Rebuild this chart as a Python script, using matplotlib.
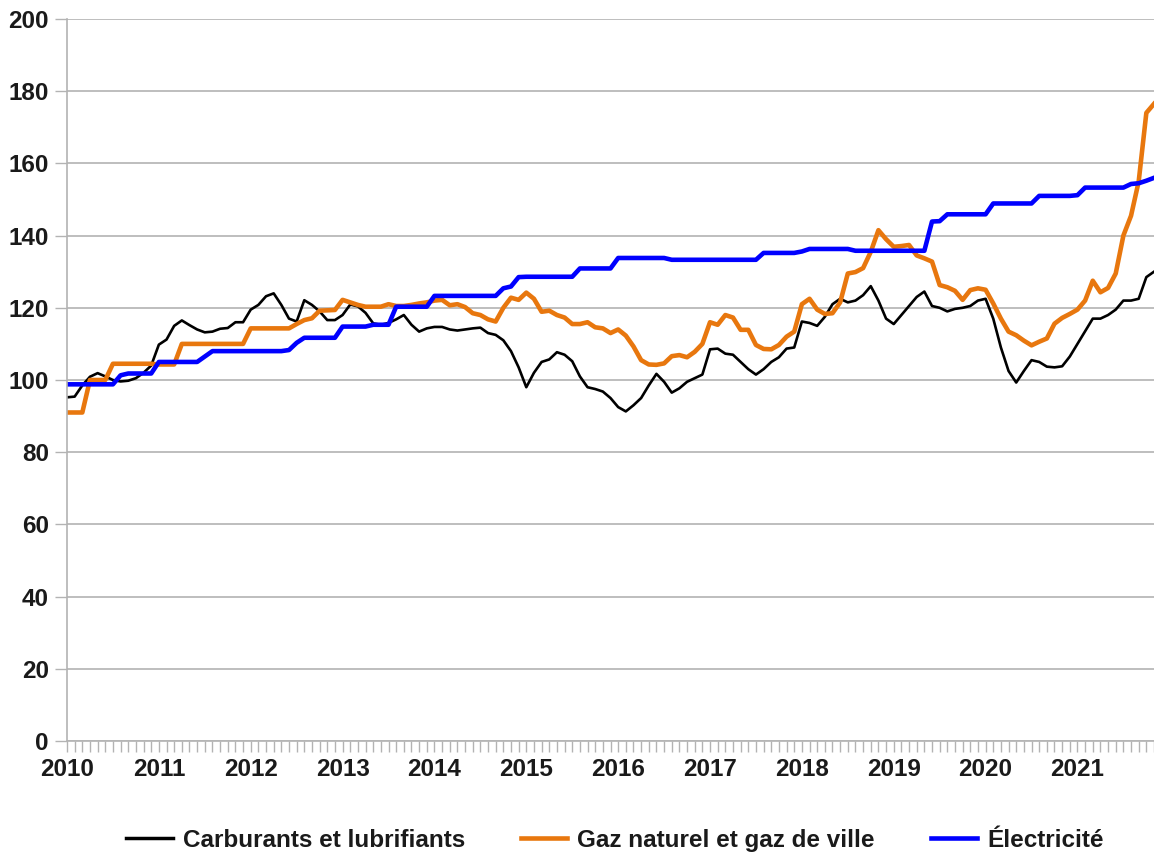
import matplotlib
matplotlib.use("Agg")
import matplotlib.pyplot as plt
import numpy as np

plt.rcParams['font.family'] = ['Liberation Sans', 'DejaVu Sans']

years = ["2010", "2011", "2012", "2013", "2014", "2015", "2016",
         "2017", "2018", "2019", "2020", "2021"]

carburants = [
    95.2, 95.4, 98.5, 100.9, 101.9, 101.0, 100.0, 99.6, 99.8, 100.5, 102.0, 104.0,
    109.8, 111.2, 115.0, 116.5, 115.2, 114.0, 113.2, 113.4, 114.2, 114.4, 116.0, 116.0,
    119.5, 120.8, 123.2, 124.0, 120.8, 117.0, 116.2, 122.1, 120.8, 119.0, 116.6, 116.6,
    118.0, 120.9, 120.4, 118.6, 115.7, 115.3, 115.8, 116.8, 118.0, 115.3, 113.4, 114.3,
    114.7, 114.7, 114.0, 113.7, 114.0, 114.3, 114.5, 113.0, 112.5, 111.0, 108.0, 103.5,
    98.0, 102.0, 105.0, 105.7, 107.7, 107.0, 105.2, 101.0, 98.0, 97.5, 96.8, 95.0,
    92.5, 91.3, 93.0, 95.0, 98.5, 101.7, 99.5, 96.5, 97.7, 99.5, 100.5, 101.5,
    108.5, 108.7, 107.3, 107.0, 105.0, 103.0, 101.5, 103.0, 105.0, 106.3, 108.7, 109.0,
    116.2, 115.8, 115.0, 117.5, 121.0, 122.5, 121.5, 122.0, 123.5, 126.0, 122.0, 117.0,
    115.5, 118.0, 120.5, 123.0, 124.5, 120.5, 120.0, 119.0, 119.7, 120.0, 120.5, 122.0,
    122.5, 117.0, 109.0, 102.5, 99.3, 102.5, 105.5, 105.0, 103.7, 103.5, 103.8, 106.5,
    110.0, 113.5, 117.0, 117.0, 118.0, 119.5, 122.0, 122.0, 122.5, 128.5, 130.0,
]

gaz = [
    91.0, 91.0, 91.0, 100.0, 100.0, 100.0, 104.5, 104.5, 104.5, 104.5, 104.5, 104.5,
    104.3, 104.3, 104.3, 110.0, 110.0, 110.0, 110.0, 110.0, 110.0, 110.0, 110.0, 110.0,
    114.3, 114.3, 114.3, 114.3, 114.3, 114.3, 115.5, 116.6, 117.1, 119.2, 119.3, 119.4,
    122.2, 121.5, 120.8, 120.3, 120.3, 120.3, 121.0, 120.5, 120.5, 120.8, 121.2, 121.5,
    122.0, 122.2, 120.7, 121.0, 120.2, 118.5, 118.0, 116.8, 116.2, 120.0, 122.8, 122.2,
    124.2, 122.5, 118.9, 119.2, 118.0, 117.3, 115.5, 115.5, 116.0, 114.6, 114.3, 113.0,
    114.0, 112.3, 109.3, 105.5, 104.3, 104.2, 104.6, 106.6, 106.9, 106.3, 107.8, 110.0,
    116.0, 115.3, 118.0, 117.3, 113.9, 113.9, 109.7, 108.6, 108.5, 109.7, 112.0, 113.4,
    121.0, 122.5, 119.5, 118.3, 118.5, 121.5, 129.5, 129.9, 131.0, 135.5, 141.5, 139.0,
    136.9, 137.1, 137.4, 134.5, 133.7, 132.8, 126.3, 125.7, 124.7, 122.2, 124.9, 125.4,
    125.0, 121.2, 117.0, 113.4, 112.4, 110.9, 109.6, 110.6, 111.5, 115.6, 117.2, 118.3,
    119.5, 122.0, 127.5, 124.3, 125.5, 129.5, 140.0, 145.5, 155.0, 174.0, 176.5,
]

electricite = [
    98.8, 98.8, 98.8, 98.8, 98.8, 98.8, 98.8, 101.3, 101.8, 101.8, 101.8, 101.8,
    105.0, 105.0, 105.0, 105.0, 105.0, 105.0, 106.5, 108.0, 108.0, 108.0, 108.0, 108.0,
    108.0, 108.0, 108.0, 108.0, 108.0, 108.3, 110.3, 111.7, 111.7, 111.7, 111.7, 111.7,
    114.8, 114.8, 114.8, 114.8, 115.3, 115.3, 115.3, 120.3, 120.3, 120.3, 120.3, 120.3,
    123.3, 123.3, 123.3, 123.3, 123.3, 123.3, 123.3, 123.3, 123.3, 125.4, 125.9, 128.5,
    128.6, 128.6, 128.6, 128.6, 128.6, 128.6, 128.6, 130.9, 130.9, 130.9, 130.9, 130.9,
    133.8, 133.8, 133.8, 133.8, 133.8, 133.8, 133.8, 133.3, 133.3, 133.3, 133.3, 133.3,
    133.3, 133.3, 133.3, 133.3, 133.3, 133.3, 133.3, 135.2, 135.2, 135.2, 135.2, 135.2,
    135.6, 136.3, 136.3, 136.3, 136.3, 136.3, 136.3, 135.8, 135.8, 135.8, 135.8, 135.8,
    135.8, 135.8, 135.8, 135.8, 135.8, 143.9, 144.0, 145.9, 145.9, 145.9, 145.9, 145.9,
    145.9, 148.9, 148.9, 148.9, 148.9, 148.9, 148.9, 151.0, 151.0, 151.0, 151.0, 151.0,
    151.2, 153.3, 153.3, 153.3, 153.3, 153.3, 153.3, 154.3, 154.5, 155.2, 156.0,
]

labels = ["Carburants et lubrifiants", "Gaz naturel et gaz de ville", "Électricité"]
colors = ["#000000", "#E8770E", "#0000FF"]
widths = [1.9, 3.3, 3.3]

months = np.arange(len(carburants))
FS = 17.5

fig = plt.figure(figsize=(11.54, 8.55), dpi=100)
ax = fig.add_axes([67 / 1154, 1 - 741 / 855, 1 - 67 / 1154, (741 - 19) / 855])

for series, lab, col, lw in zip([carburants, gaz, electricite], labels, colors, widths):
    ax.plot(months, series, color=col, lw=lw, label=lab, solid_joinstyle='round')

ax.set_ylim(0, 200)
ax.set_xlim(0, 141.5)
ax.set_yticks(np.arange(0, 201, 20))
ax.grid(axis='y', color='#b3b3b3', lw=1.2)
ax.set_axisbelow(True)

tick_pos = np.arange(0, len(carburants))
tick_lab = [years[i // 12] if i % 12 == 0 and i // 12 < len(years) else "" for i in tick_pos]
ax.set_xticks(tick_pos)
ax.set_xticklabels(tick_lab)

for side in ['top', 'right']:
    ax.spines[side].set_visible(False)
for side in ['left', 'bottom']:
    ax.spines[side].set_color('#b3b3b3')
    ax.spines[side].set_linewidth(1.2)

ax.tick_params(axis='x', length=8, width=1, color='#b3b3b3', pad=4,
               labelsize=FS, direction='out')
ax.tick_params(axis='y', length=9, width=1, color='#b3b3b3', pad=4,
               labelsize=FS)
for t in ax.get_xticklabels() + ax.get_yticklabels():
    t.set_fontweight('bold')
    t.set_color('#1a1a1a')

leg = fig.legend(loc='center', bbox_to_anchor=(0.533, 1 - 840 / 855), ncol=3,
                 frameon=False, handlelength=1.9, handletextpad=0.42,
                 columnspacing=2.3,
                 prop={'weight': 'bold', 'size': FS})
for h in leg.get_lines():
    h.set_linewidth(3.3)
leg.get_lines()[0].set_linewidth(2.5)
for t in leg.get_texts():
    t.set_color('#1a1a1a')

fig.savefig("out.png", dpi=100)
